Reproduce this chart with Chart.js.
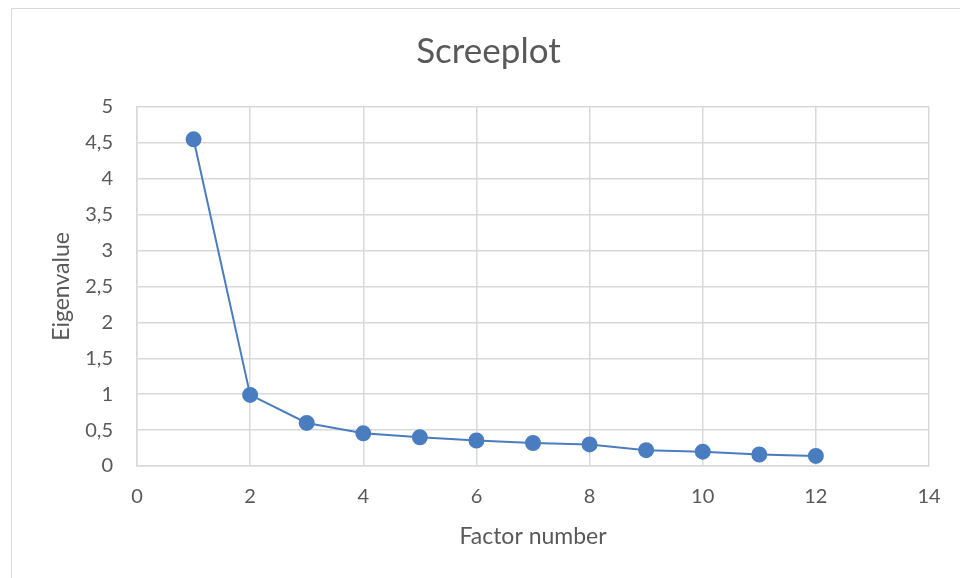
<!DOCTYPE html>
<html>
<head>
<meta charset="utf-8">
<script src="https://cdn.jsdelivr.net/npm/chart.js@4/dist/chart.umd.min.js"></script>
<style>
  html, body { margin: 0; padding: 0; background: #fff; overflow: hidden; }
  #wrap { position: relative; width: 960px; height: 578px; }
  #frame { position: absolute; left: 11px; top: 8px; width: 1000px; height: 600px;
           border-left: 1.5px solid #d9d9d9; border-top: 1.5px solid #d9d9d9; }
  canvas { position: absolute; left: 0; top: 0; }
</style>
</head>
<body>
<div id="wrap">
  <div id="frame"></div>
  <canvas id="grafico" width="960" height="578"></canvas>
</div>
<script>
// Dados do screeplot
const factorNumbers = [1, 2, 3, 4, 5, 6, 7, 8, 9, 10, 11, 12];
const eigenvalues = [4.55, 0.99, 0.60, 0.455, 0.40, 0.355, 0.32, 0.30, 0.22, 0.20, 0.16, 0.14];
const xTicks = [0, 2, 4, 6, 8, 10, 12, 14];
const yTicks = [0, 0.5, 1, 1.5, 2, 2.5, 3, 3.5, 4, 4.5, 5];

const pontos = factorNumbers.map((x, i) => ({ x: x, y: eigenvalues[i] }));

const fonte = "Lato, 'Open Sans', sans-serif";
const cinza = "#595959";
const azul = "#4a7dbf";

new Chart(document.getElementById("grafico").getContext("2d"), {
    type: "scatter",
    data: {
        datasets: [{
            label: "Eigenvalue",
            data: pontos,
            showLine: true,
            borderColor: azul,
            borderWidth: 2,
            backgroundColor: azul,
            pointRadius: 7,
            pointHoverRadius: 7
        }]
    },
    options: {
        responsive: false,
        animation: false,
        layout: { padding: { left: 48, right: 31, top: 0, bottom: 0 } },
        plugins: {
            legend: { display: false },
            tooltip: { enabled: false },
            title: {
                display: true,
                text: "Screeplot",
                color: cinza,
                font: { family: fonte, size: 35, weight: "normal" },
                padding: { top: 31, bottom: 34 }
            }
        },
        scales: {
            x: {
                type: "linear",
                min: xTicks[0],
                max: xTicks[xTicks.length - 1],
                afterBuildTicks: (s) => { s.ticks = xTicks.map(v => ({ value: v })); },
                afterFit: (s) => { s.height = 112; },
                grid: { color: "#d9d9d9", lineWidth: 1.5, drawTicks: false },
                border: { color: "#d9d9d9", width: 1.5 },
                ticks: { color: cinza, font: { family: fonte, size: 20 }, padding: 19 },
                title: {
                    display: true,
                    text: "Factor number",
                    color: cinza,
                    font: { family: fonte, size: 23 },
                    padding: { top: 0, bottom: 28 }
                }
            },
            y: {
                min: yTicks[0],
                max: yTicks[yTicks.length - 1],
                afterBuildTicks: (s) => { s.ticks = yTicks.map(v => ({ value: v })); },
                afterFit: (s) => { s.width = 89; },
                grid: { color: "#d9d9d9", lineWidth: 1.5, drawTicks: false },
                border: { color: "#d9d9d9", width: 1.5 },
                ticks: {
                    color: cinza,
                    font: { family: fonte, size: 20 },
                    padding: 24,
                    callback: (v) => String(v).replace(".", ",")
                },
                title: {
                    display: true,
                    text: "Eigenvalue",
                    color: cinza,
                    font: { family: fonte, size: 23 },
                    padding: { top: 0, bottom: 0 }
                }
            }
        }
    }
});
</script>
</body>
</html>
